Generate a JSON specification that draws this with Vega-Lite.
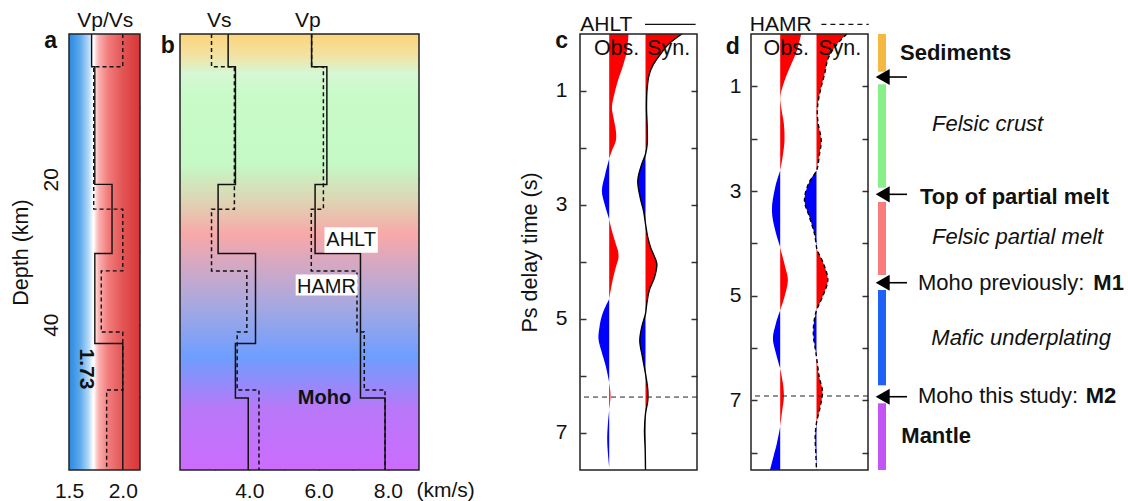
{
"$schema": "https://vega.github.io/schema/vega-lite/v6.json",
"padding": {"left": 10, "top": 9, "right": 0, "bottom": 0},
"background": "white",
"config": {
  "font": "Liberation Sans",
  "view": {"stroke": null},
  "axis": {"labelFont": "Liberation Sans", "titleFont": "Liberation Sans", "labelFontSize": 21, "titleFontSize": 21.5, "titleFontWeight": "normal", "labelColor": "#111", "titleColor": "#111", "tickColor": "#333", "tickWidth": 1.5, "domain": false, "grid": false, "labelFlush": false, "labelOverlap": false},
  "text": {"font": "Liberation Sans", "fontSize": 21, "color": "#111"}
},
"datasets": {
  "prof": [
    {"m":"AHLT","d":0,"vs":3.39,"vp":5.8,"r":1.71},
    {"m":"AHLT","d":4.5,"vs":3.6,"vp":6.24,"r":1.74},
    {"m":"AHLT","d":20.7,"vs":3.1,"vp":5.9,"r":1.9},
    {"m":"AHLT","d":30.2,"vs":4.18,"vp":7.21,"r":1.74},
    {"m":"AHLT","d":42.6,"vs":3.6,"vp":7.21,"r":2.0},
    {"m":"AHLT","d":50.1,"vs":3.97,"vp":7.92,"r":2.0},
    {"m":"AHLT","d":60,"vs":3.97,"vp":7.92,"r":2.0},
    {"m":"HAMR","d":0,"vs":2.91,"vp":5.8,"r":2.0},
    {"m":"HAMR","d":4.5,"vs":3.57,"vp":6.14,"r":1.73},
    {"m":"HAMR","d":24.1,"vs":2.91,"vp":5.79,"r":2.0},
    {"m":"HAMR","d":32.6,"vs":3.93,"vp":7.11,"r":1.8},
    {"m":"HAMR","d":41.0,"vs":3.65,"vp":7.32,"r":2.0},
    {"m":"HAMR","d":49.0,"vs":4.28,"vp":7.92,"r":1.85},
    {"m":"HAMR","d":60,"vs":4.28,"vp":7.92,"r":1.85}
  ],
  "wav": [
    {"p":"c","w":"o","l":1,"s":"p","t":0,"x":48.5},
    {"p":"c","w":"o","l":1,"s":"p","t":0.3,"x":46.9},
    {"p":"c","w":"o","l":1,"s":"p","t":0.53,"x":43.5},
    {"p":"c","w":"o","l":1,"s":"p","t":0.82,"x":37.9},
    {"p":"c","w":"o","l":1,"s":"p","t":1.12,"x":33.5},
    {"p":"c","w":"o","l":1,"s":"p","t":1.29,"x":31.9},
    {"p":"c","w":"o","l":1,"s":"p","t":1.47,"x":33.5},
    {"p":"c","w":"o","l":1,"s":"p","t":1.7,"x":35.9},
    {"p":"c","w":"o","l":1,"s":"p","t":1.87,"x":35.9},
    {"p":"c","w":"o","l":1,"s":"p","t":2.05,"x":31.9},
    {"p":"c","w":"o","l":1,"s":"p","t":2.19,"x":29.2},
    {"p":"c","w":"o","l":2,"s":"n","t":2.19,"x":29.2,"k":1},
    {"p":"c","w":"o","l":2,"s":"n","t":2.46,"x":25.2},
    {"p":"c","w":"o","l":2,"s":"n","t":2.75,"x":21.9},
    {"p":"c","w":"o","l":2,"s":"n","t":2.98,"x":24.5},
    {"p":"c","w":"o","l":2,"s":"n","t":3.25,"x":29.2},
    {"p":"c","w":"o","l":3,"s":"p","t":3.25,"x":29.2,"k":1},
    {"p":"c","w":"o","l":3,"s":"p","t":3.45,"x":31.9},
    {"p":"c","w":"o","l":3,"s":"p","t":3.74,"x":36.9},
    {"p":"c","w":"o","l":3,"s":"p","t":3.8,"x":37.9},
    {"p":"c","w":"o","l":3,"s":"p","t":3.92,"x":38.5},
    {"p":"c","w":"o","l":3,"s":"p","t":4.09,"x":35.9},
    {"p":"c","w":"o","l":3,"s":"p","t":4.38,"x":31.9},
    {"p":"c","w":"o","l":3,"s":"p","t":4.65,"x":29.2},
    {"p":"c","w":"o","l":4,"s":"n","t":4.65,"x":29.2,"k":1},
    {"p":"c","w":"o","l":4,"s":"n","t":4.91,"x":22.5},
    {"p":"c","w":"o","l":4,"s":"n","t":5.14,"x":19.5},
    {"p":"c","w":"o","l":4,"s":"n","t":5.35,"x":18.5},
    {"p":"c","w":"o","l":4,"s":"n","t":5.55,"x":21.2},
    {"p":"c","w":"o","l":4,"s":"n","t":5.84,"x":25.9},
    {"p":"c","w":"o","l":4,"s":"n","t":6.11,"x":29.2},
    {"p":"c","w":"o","l":5,"s":"p","t":6.11,"x":29.2,"k":1},
    {"p":"c","w":"o","l":5,"s":"p","t":6.25,"x":30.2},
    {"p":"c","w":"o","l":5,"s":"p","t":6.37,"x":30.5},
    {"p":"c","w":"o","l":5,"s":"p","t":6.6,"x":29.2},
    {"p":"c","w":"o","l":6,"s":"n","t":6.6,"x":29.2,"k":1},
    {"p":"c","w":"o","l":6,"s":"n","t":6.84,"x":27.9},
    {"p":"c","w":"o","l":6,"s":"n","t":7.13,"x":27.2},
    {"p":"c","w":"o","l":6,"s":"n","t":7.42,"x":28.2},
    {"p":"c","w":"o","l":6,"s":"n","t":7.6,"x":29.2},

    {"p":"c","w":"s","l":1,"s":"p","t":0,"x":101.8},
    {"p":"c","w":"s","l":1,"s":"p","t":0.18,"x":88.5},
    {"p":"c","w":"s","l":1,"s":"p","t":0.36,"x":80.2},
    {"p":"c","w":"s","l":1,"s":"p","t":0.53,"x":73.5},
    {"p":"c","w":"s","l":1,"s":"p","t":0.71,"x":69.2},
    {"p":"c","w":"s","l":1,"s":"p","t":0.94,"x":67.2},
    {"p":"c","w":"s","l":1,"s":"p","t":1.29,"x":66.5},
    {"p":"c","w":"s","l":1,"s":"p","t":1.64,"x":67.2},
    {"p":"c","w":"s","l":1,"s":"p","t":1.93,"x":67.2},
    {"p":"c","w":"s","l":1,"s":"p","t":2.11,"x":65.5},
    {"p":"c","w":"s","l":2,"s":"n","t":2.11,"x":65.5,"k":1},
    {"p":"c","w":"s","l":2,"s":"n","t":2.28,"x":61.8},
    {"p":"c","w":"s","l":2,"s":"n","t":2.57,"x":57.8},
    {"p":"c","w":"s","l":2,"s":"n","t":2.87,"x":60.2},
    {"p":"c","w":"s","l":2,"s":"n","t":3.1,"x":63.5},
    {"p":"c","w":"s","l":2,"s":"n","t":3.33,"x":65.5},
    {"p":"c","w":"s","l":3,"s":"p","t":3.33,"x":65.5,"k":1},
    {"p":"c","w":"s","l":3,"s":"p","t":3.57,"x":67.8},
    {"p":"c","w":"s","l":3,"s":"p","t":3.74,"x":70.5},
    {"p":"c","w":"s","l":3,"s":"p","t":3.84,"x":72.8},
    {"p":"c","w":"s","l":3,"s":"p","t":4.03,"x":76.8},
    {"p":"c","w":"s","l":3,"s":"p","t":4.27,"x":74.5},
    {"p":"c","w":"s","l":3,"s":"p","t":4.5,"x":69.2},
    {"p":"c","w":"s","l":3,"s":"p","t":4.73,"x":66.8},
    {"p":"c","w":"s","l":3,"s":"p","t":4.91,"x":65.5},
    {"p":"c","w":"s","l":4,"s":"n","t":4.91,"x":65.5,"k":1},
    {"p":"c","w":"s","l":4,"s":"n","t":5.14,"x":61.8},
    {"p":"c","w":"s","l":4,"s":"n","t":5.38,"x":59.8},
    {"p":"c","w":"s","l":4,"s":"n","t":5.67,"x":62.5},
    {"p":"c","w":"s","l":4,"s":"n","t":5.96,"x":65.5},
    {"p":"c","w":"s","l":5,"s":"p","t":5.96,"x":65.5,"k":1},
    {"p":"c","w":"s","l":5,"s":"p","t":6.25,"x":67.8},
    {"p":"c","w":"s","l":5,"s":"p","t":6.43,"x":67.8},
    {"p":"c","w":"s","l":5,"s":"p","t":6.66,"x":65.5},
    {"p":"c","w":"s","l":6,"s":"n","t":6.66,"x":65.5,"k":1},
    {"p":"c","w":"s","l":6,"s":"n","t":6.95,"x":64.5},
    {"p":"c","w":"s","l":6,"s":"n","t":7.3,"x":65.2},
    {"p":"c","w":"s","l":6,"s":"n","t":7.65,"x":65.5},

    {"p":"d","w":"o","l":1,"s":"p","t":0,"x":50.2},
    {"p":"d","w":"o","l":1,"s":"p","t":0.32,"x":45.9},
    {"p":"d","w":"o","l":1,"s":"p","t":0.58,"x":40.2},
    {"p":"d","w":"o","l":1,"s":"p","t":0.9,"x":33.5},
    {"p":"d","w":"o","l":1,"s":"p","t":1.18,"x":29.5},
    {"p":"d","w":"o","l":1,"s":"p","t":1.4,"x":30.2},
    {"p":"d","w":"o","l":1,"s":"p","t":1.72,"x":32.9},
    {"p":"d","w":"o","l":1,"s":"p","t":2.04,"x":33.5},
    {"p":"d","w":"o","l":1,"s":"p","t":2.36,"x":31.5},
    {"p":"d","w":"o","l":1,"s":"p","t":2.61,"x":29.2},
    {"p":"d","w":"o","l":2,"s":"n","t":2.61,"x":29.2,"k":1},
    {"p":"d","w":"o","l":2,"s":"n","t":2.93,"x":24.2},
    {"p":"d","w":"o","l":2,"s":"n","t":3.37,"x":20.9},
    {"p":"d","w":"o","l":2,"s":"n","t":3.75,"x":24.2},
    {"p":"d","w":"o","l":2,"s":"n","t":4.07,"x":29.2},
    {"p":"d","w":"o","l":3,"s":"p","t":4.07,"x":29.2,"k":1},
    {"p":"d","w":"o","l":3,"s":"p","t":4.13,"x":29.9},
    {"p":"d","w":"o","l":3,"s":"p","t":4.45,"x":34.2},
    {"p":"d","w":"o","l":3,"s":"p","t":4.7,"x":36.9},
    {"p":"d","w":"o","l":3,"s":"p","t":5.02,"x":33.5},
    {"p":"d","w":"o","l":3,"s":"p","t":5.28,"x":29.2},
    {"p":"d","w":"o","l":4,"s":"n","t":5.28,"x":29.2,"k":1},
    {"p":"d","w":"o","l":4,"s":"n","t":5.53,"x":24.9},
    {"p":"d","w":"o","l":4,"s":"n","t":5.82,"x":21.9},
    {"p":"d","w":"o","l":4,"s":"n","t":6.1,"x":24.9},
    {"p":"d","w":"o","l":4,"s":"n","t":6.39,"x":29.2},
    {"p":"d","w":"o","l":5,"s":"p","t":6.39,"x":29.2,"k":1},
    {"p":"d","w":"o","l":5,"s":"p","t":6.67,"x":31.9},
    {"p":"d","w":"o","l":5,"s":"p","t":6.93,"x":32.9},
    {"p":"d","w":"o","l":5,"s":"p","t":7.24,"x":30.9},
    {"p":"d","w":"o","l":5,"s":"p","t":7.5,"x":29.2},
    {"p":"d","w":"o","l":6,"s":"n","t":7.5,"x":29.2,"k":1},
    {"p":"d","w":"o","l":6,"s":"n","t":7.82,"x":25.9},
    {"p":"d","w":"o","l":6,"s":"n","t":8.07,"x":22.5},
    {"p":"d","w":"o","l":6,"s":"n","t":8.33,"x":19.0},

    {"p":"d","w":"s","l":1,"s":"p","t":0,"x":95.8},
    {"p":"d","w":"s","l":1,"s":"p","t":0.2,"x":85.8},
    {"p":"d","w":"s","l":1,"s":"p","t":0.45,"x":77.5},
    {"p":"d","w":"s","l":1,"s":"p","t":0.77,"x":73.5},
    {"p":"d","w":"s","l":1,"s":"p","t":1.09,"x":69.2},
    {"p":"d","w":"s","l":1,"s":"p","t":1.4,"x":66.5},
    {"p":"d","w":"s","l":1,"s":"p","t":1.66,"x":66.8},
    {"p":"d","w":"s","l":1,"s":"p","t":2.04,"x":70.2},
    {"p":"d","w":"s","l":1,"s":"p","t":2.29,"x":68.5},
    {"p":"d","w":"s","l":1,"s":"p","t":2.61,"x":65.5},
    {"p":"d","w":"s","l":2,"s":"n","t":2.61,"x":65.5,"k":1},
    {"p":"d","w":"s","l":2,"s":"n","t":2.86,"x":57.5},
    {"p":"d","w":"s","l":2,"s":"n","t":3.18,"x":53.5},
    {"p":"d","w":"s","l":2,"s":"n","t":3.5,"x":58.5},
    {"p":"d","w":"s","l":2,"s":"n","t":3.82,"x":63.5},
    {"p":"d","w":"s","l":2,"s":"n","t":4.07,"x":65.5},
    {"p":"d","w":"s","l":3,"s":"p","t":4.07,"x":65.5,"k":1},
    {"p":"d","w":"s","l":3,"s":"p","t":4.13,"x":66.2},
    {"p":"d","w":"s","l":3,"s":"p","t":4.39,"x":72.5},
    {"p":"d","w":"s","l":3,"s":"p","t":4.7,"x":76.8},
    {"p":"d","w":"s","l":3,"s":"p","t":5.02,"x":71.5},
    {"p":"d","w":"s","l":3,"s":"p","t":5.28,"x":65.5},
    {"p":"d","w":"s","l":4,"s":"n","t":5.28,"x":65.5,"k":1},
    {"p":"d","w":"s","l":4,"s":"n","t":5.53,"x":62.8},
    {"p":"d","w":"s","l":4,"s":"n","t":5.78,"x":62.5},
    {"p":"d","w":"s","l":4,"s":"n","t":6.04,"x":64.5},
    {"p":"d","w":"s","l":4,"s":"n","t":6.17,"x":65.5},
    {"p":"d","w":"s","l":5,"s":"p","t":6.17,"x":65.5,"k":1},
    {"p":"d","w":"s","l":5,"s":"p","t":6.55,"x":68.2},
    {"p":"d","w":"s","l":5,"s":"p","t":6.83,"x":71.5},
    {"p":"d","w":"s","l":5,"s":"p","t":7.12,"x":69.2},
    {"p":"d","w":"s","l":5,"s":"p","t":7.43,"x":65.5},
    {"p":"d","w":"s","l":6,"s":"n","t":7.43,"x":65.5,"k":1},
    {"p":"d","w":"s","l":6,"s":"n","t":7.69,"x":64.2},
    {"p":"d","w":"s","l":6,"s":"n","t":8.01,"x":64.8},
    {"p":"d","w":"s","l":6,"s":"n","t":8.33,"x":65.5}
  ],
  "bars": [
    {"u":"Sediments","t0":0,"t1":0.72},
    {"u":"Felsic crust","t0":0.961,"t1":2.937},
    {"u":"Felsic partial melt","t0":3.21,"t1":4.605},
    {"u":"Mafic underplating","t0":4.891,"t1":6.712},
    {"u":"Mantle","t0":7.056,"t1":8.33}
  ],
  "arr": [{"t":0.822},{"t":3.063},{"t":4.752},{"t":6.93}],
  "labs": [
    {"txt":"Sediments","x":32,"t":0.502},
    {"txt":"Felsic crust","x":64,"t":1.853},
    {"txt":"Top of partial melt","x":52,"t":3.242},
    {"txt":"Felsic partial melt","x":64,"t":4.018},
    {"txt":"Moho previously: ","x":50,"t":4.897},
    {"txt":"M1","x":225.3,"t":4.897},
    {"txt":"Mafic underplating","x":63.3,"t":5.948},
    {"txt":"Moho this study: ","x":50,"t":7.044},
    {"txt":"M2","x":217.7,"t":7.044},
    {"txt":"Mantle","x":33.3,"t":7.809}
  ]
},
"hconcat": [
  {
    "width": 71, "height": 436,
    "layer": [
      {
        "data": {"values": [{}]},
        "layer": [
          {
            "mark": {"type": "rect", "fill": {"gradient": "linear", "x1": 0, "y1": 0, "x2": 1, "y2": 0, "stops": [
              {"offset": 0, "color": "#2a88e0"}, {"offset": 0.15, "color": "#5aa8ec"}, {"offset": 0.28, "color": "#b8daf8"},
              {"offset": 0.33, "color": "#f4f9ff"}, {"offset": 0.35, "color": "#ffffff"}, {"offset": 0.37, "color": "#ffe2e2"},
              {"offset": 0.42, "color": "#fbb0b0"}, {"offset": 0.55, "color": "#f27c7c"}, {"offset": 0.75, "color": "#e45656"},
              {"offset": 1, "color": "#d83535"}]}},
            "encoding": {
              "x": {"datum": 1.5, "type": "quantitative", "scale": {"domain": [1.5, 2.16], "nice": false, "zero": false},
                    "axis": {"values": [1.5, 2.0], "format": ".1f", "ticks": false, "labelPadding": 10, "title": null}},
              "x2": {"datum": 2.16},
              "y": {"datum": 0, "type": "quantitative", "scale": {"domain": [0, 60], "reverse": true, "nice": false, "zero": false},
                    "axis": {"values": [10, 20, 30, 40, 50], "labelExpr": "datum.value == 20 || datum.value == 40 ? datum.label : ''",
                             "labelAngle": 270, "labelAlign": "center", "labelBaseline": "bottom", "tickSize": -6, "labelPadding": 14,
                             "title": "Depth (km)", "titlePadding": 8}},
              "y2": {"datum": 60}
            }
          },
          {
            "data": {"name": "prof"},
            "mark": {"type": "line", "interpolate": "step-before", "color": "#111", "strokeWidth": 1.4},
            "encoding": {
              "x": {"field": "r", "type": "quantitative"},
              "y": {"field": "d", "type": "quantitative"},
              "detail": {"field": "m"},
              "order": {"field": "d", "type": "quantitative"},
              "strokeDash": {"field": "m", "type": "nominal", "scale": {"domain": ["AHLT", "HAMR"], "range": [[1, 0], [4, 3]]}, "legend": null}
            }
          },
          {
            "mark": {"type": "text", "text": "1.73", "fontWeight": "bold", "angle": 90, "align": "center", "baseline": "middle", "fontSize": 21},
            "encoding": {"x": {"datum": 1.66, "type": "quantitative"}, "y": {"datum": 46.1, "type": "quantitative"}}
          },
          {
            "mark": {"type": "text", "text": "Vp/Vs", "align": "center", "baseline": "alphabetic"},
            "encoding": {"x": {"datum": 1.837, "type": "quantitative"}, "y": {"datum": -0.97, "type": "quantitative"}}
          },
          {
            "mark": {"type": "text", "text": "a", "fontWeight": "bold", "fontSize": 23, "align": "center", "baseline": "alphabetic"},
            "encoding": {"x": {"datum": 1.33, "type": "quantitative"}, "y": {"datum": 1.89, "type": "quantitative"}}
          }
        ]
      },
      {
        "data": {"values": [{}]},
        "mark": {"type": "rect", "fill": "#ffffff", "fillOpacity": 0, "stroke": "#222", "strokeWidth": 1.5},
        "encoding": {
          "x": {"datum": 1.5, "type": "quantitative", "axis": null},
          "x2": {"datum": 2.16},
          "y": {"datum": 0, "type": "quantitative", "axis": {"orient": "right", "values": [10, 20, 30, 40, 50], "labels": false, "tickSize": -6, "title": null}},
          "y2": {"datum": 60}
        }
      }
    ],
    "resolve": {"axis": {"x": "independent", "y": "independent"}}
  },
  {"width": 40, "height": 436, "data": {"values": []}, "mark": "point", "encoding": {}},
  {
    "width": 239, "height": 436,
    "layer": [
      {
        "data": {"values": [{}]},
        "layer": [
          {
            "mark": {"type": "rect", "fill": {"gradient": "linear", "x1": 0, "y1": 0, "x2": 0, "y2": 1, "stops": [
              {"offset": 0, "color": "#fcd47c"}, {"offset": 0.05, "color": "#f2e2a2"}, {"offset": 0.09, "color": "#d6f7d4"},
              {"offset": 0.14, "color": "#c8fbc8"}, {"offset": 0.3, "color": "#c4f8c4"}, {"offset": 0.38, "color": "#ddd6b4"},
              {"offset": 0.46, "color": "#f8a8a8"}, {"offset": 0.53, "color": "#d4a8c4"}, {"offset": 0.62, "color": "#a8a8e0"},
              {"offset": 0.74, "color": "#6e9eff"}, {"offset": 0.86, "color": "#b878f8"}, {"offset": 1, "color": "#cc6cff"}]}},
            "encoding": {
              "x": {"datum": 2, "type": "quantitative", "scale": {"domain": [2, 8.9], "nice": false, "zero": false},
                    "axis": {"values": [3, 4, 5, 6, 7, 8], "labelExpr": "datum.value % 2 == 0 ? format(datum.value, '.1f') : ''", "tickSize": -6, "labelPadding": 16, "title": null}},
              "x2": {"datum": 8.9},
              "y": {"datum": 0, "type": "quantitative", "scale": {"domain": [0, 60], "reverse": true, "nice": false, "zero": false},
                    "axis": {"values": [10, 20, 30, 40, 50], "labels": false, "tickSize": -6, "title": null}},
              "y2": {"datum": 60}
            }
          },
          {
            "data": {"name": "prof"},
            "mark": {"type": "line", "interpolate": "step-before", "color": "#111", "strokeWidth": 1.5},
            "encoding": {
              "x": {"field": "vs", "type": "quantitative"},
              "y": {"field": "d", "type": "quantitative"},
              "detail": {"field": "m"},
              "order": {"field": "d", "type": "quantitative"},
              "strokeDash": {"field": "m", "type": "nominal", "scale": {"domain": ["AHLT", "HAMR"], "range": [[1, 0], [4, 3]]}, "legend": null}
            }
          },
          {
            "data": {"name": "prof"},
            "mark": {"type": "line", "interpolate": "step-before", "color": "#111", "strokeWidth": 1.5},
            "encoding": {
              "x": {"field": "vp", "type": "quantitative"},
              "y": {"field": "d", "type": "quantitative"},
              "detail": {"field": "m"},
              "order": {"field": "d", "type": "quantitative"},
              "strokeDash": {"field": "m", "type": "nominal", "scale": {"domain": ["AHLT", "HAMR"], "range": [[1, 0], [4, 3]]}, "legend": null}
            }
          },
          {
            "mark": {"type": "rect", "color": "#ffffff"},
            "encoding": {"x": {"datum": 6.17, "type": "quantitative"}, "x2": {"datum": 7.71}, "y": {"datum": 26.6, "type": "quantitative"}, "y2": {"datum": 30.1}}
          },
          {
            "mark": {"type": "rect", "color": "#ffffff"},
            "encoding": {"x": {"datum": 5.34, "type": "quantitative"}, "x2": {"datum": 7.13}, "y": {"datum": 33.1, "type": "quantitative"}, "y2": {"datum": 36.0}}
          },
          {
            "mark": {"type": "text", "text": "AHLT", "fontSize": 20, "align": "center", "baseline": "alphabetic"},
            "encoding": {"x": {"datum": 6.94, "type": "quantitative"}, "y": {"datum": 29.2, "type": "quantitative"}}
          },
          {
            "mark": {"type": "text", "text": "HAMR", "fontSize": 20, "align": "center", "baseline": "alphabetic"},
            "encoding": {"x": {"datum": 6.23, "type": "quantitative"}, "y": {"datum": 35.7, "type": "quantitative"}}
          },
          {
            "mark": {"type": "text", "text": "Moho", "fontSize": 20, "fontWeight": "bold", "align": "center", "baseline": "alphabetic"},
            "encoding": {"x": {"datum": 6.17, "type": "quantitative"}, "y": {"datum": 50.9, "type": "quantitative"}}
          },
          {
            "mark": {"type": "text", "text": "Vs", "align": "center", "baseline": "alphabetic"},
            "encoding": {"x": {"datum": 3.13, "type": "quantitative"}, "y": {"datum": -0.97, "type": "quantitative"}}
          },
          {
            "mark": {"type": "text", "text": "Vp", "align": "center", "baseline": "alphabetic"},
            "encoding": {"x": {"datum": 5.69, "type": "quantitative"}, "y": {"datum": -0.97, "type": "quantitative"}}
          },
          {
            "mark": {"type": "text", "text": "(km/s)", "align": "center", "baseline": "alphabetic"},
            "encoding": {"x": {"datum": 9.67, "type": "quantitative"}, "y": {"datum": 63.7, "type": "quantitative"}}
          },
          {
            "mark": {"type": "text", "text": "b", "fontWeight": "bold", "fontSize": 23, "align": "center", "baseline": "alphabetic"},
            "encoding": {"x": {"datum": 1.65, "type": "quantitative"}, "y": {"datum": 2.62, "type": "quantitative"}}
          }
        ]
      },
      {
        "data": {"values": [{}]},
        "mark": {"type": "rect", "fill": "#ffffff", "fillOpacity": 0, "stroke": "#222", "strokeWidth": 1.5},
        "encoding": {
          "x": {"datum": 2, "type": "quantitative", "axis": {"orient": "top", "values": [3, 4, 5, 6, 7, 8], "labels": false, "tickSize": -6, "title": null}},
          "x2": {"datum": 8.9},
          "y": {"datum": 0, "type": "quantitative", "axis": {"orient": "right", "values": [20, 40], "labels": false, "tickSize": -6, "title": null}},
          "y2": {"datum": 60}
        }
      }
    ],
    "resolve": {"axis": {"x": "independent", "y": "independent"}}
  },
  {"width": 161, "height": 436, "data": {"values": []}, "mark": "point", "encoding": {}},
  {
    "width": 117, "height": 436,
    "layer": [
      {
        "data": {"values": [{}]},
        "layer": [
          {
            "data": {"name": "wav"},
            "transform": [{"filter": "datum.p == 'c' && datum.w == 'o'"}],
            "mark": {"type": "area", "orient": "horizontal", "interpolate": "catmull-rom"},
            "encoding": {
              "y": {"field": "t", "type": "quantitative", "scale": {"domain": [0, 7.65], "reverse": true, "nice": false, "zero": false},
                    "axis": {"values": [1, 2, 3, 4, 5, 6, 7], "format": "d", "labelExpr": "datum.value % 2 == 1 ? datum.label : ''", "tickSize": -6, "labelPadding": 19, "title": "Ps delay time (s)", "titlePadding": 14}},
              "x": {"field": "x", "type": "quantitative", "stack": null, "scale": {"domain": [0, 117], "nice": false, "zero": false}, "axis": null},
              "x2": {"datum": 29.2},
              "color": {"field": "s", "type": "nominal", "scale": {"domain": ["p", "n"], "range": ["#ff0000", "#0000ff"]}, "legend": null},
              "detail": {"field": "l"}
            }
          },
          {
            "data": {"name": "wav"},
            "transform": [{"filter": "datum.p == 'c' && datum.w == 's'"}],
            "mark": {"type": "area", "orient": "horizontal", "interpolate": "catmull-rom"},
            "encoding": {
              "y": {"field": "t", "type": "quantitative"},
              "x": {"field": "x", "type": "quantitative", "stack": null, "axis": null},
              "x2": {"datum": 65.5},
              "color": {"field": "s", "type": "nominal", "scale": {"domain": ["p", "n"], "range": ["#ff0000", "#0000ff"]}, "legend": null},
              "detail": {"field": "l"}
            }
          },
          {
            "data": {"name": "wav"},
            "transform": [{"filter": "datum.p == 'c' && datum.w == 's' && datum.k != 1"}],
            "mark": {"type": "line", "interpolate": "catmull-rom", "color": "#000", "strokeWidth": 1.4},
            "encoding": {
              "y": {"field": "t", "type": "quantitative"},
              "x": {"field": "x", "type": "quantitative", "axis": null},
              "order": {"field": "t", "type": "quantitative"}
            }
          },
          {
            "mark": {"type": "rule", "color": "#222", "strokeWidth": 1, "strokeDash": [5, 4]},
            "encoding": {"y": {"datum": 6.37, "type": "quantitative"}}
          },
          {
            "mark": {"type": "text", "text": "AHLT", "align": "center", "baseline": "alphabetic"},
            "encoding": {"x": {"datum": 26.3, "type": "quantitative", "axis": null}, "y": {"datum": -0.053, "type": "quantitative"}}
          },
          {
            "mark": {"type": "rule", "color": "#111", "strokeWidth": 1.3},
            "encoding": {"x": {"datum": 65, "type": "quantitative", "axis": null}, "x2": {"datum": 115.6}, "y": {"datum": -0.17, "type": "quantitative"}}
          },
          {
            "mark": {"type": "text", "text": "Obs.", "fontSize": 21.5, "align": "center", "baseline": "alphabetic"},
            "encoding": {"x": {"datum": 36.6, "type": "quantitative", "axis": null}, "y": {"datum": 0.368, "type": "quantitative"}}
          },
          {
            "mark": {"type": "text", "text": "Syn.", "fontSize": 21.5, "align": "center", "baseline": "alphabetic"},
            "encoding": {"x": {"datum": 88.6, "type": "quantitative", "axis": null}, "y": {"datum": 0.368, "type": "quantitative"}}
          },
          {
            "mark": {"type": "text", "text": "c", "fontWeight": "bold", "fontSize": 23, "align": "center", "baseline": "alphabetic"},
            "encoding": {"x": {"datum": -18.4, "type": "quantitative", "axis": null}, "y": {"datum": 0.24, "type": "quantitative"}}
          }
        ]
      },
      {
        "data": {"values": [{}]},
        "mark": {"type": "rect", "fill": "#ffffff", "fillOpacity": 0, "stroke": "#222", "strokeWidth": 1.5},
        "encoding": {
          "x": {"datum": 0, "type": "quantitative", "axis": null},
          "x2": {"datum": 117},
          "y": {"datum": 0, "type": "quantitative", "axis": {"orient": "right", "values": [1, 2, 3, 4, 5, 6, 7], "labels": false, "tickSize": -6, "title": null}},
          "y2": {"datum": 7.65}
        }
      }
    ],
    "resolve": {"axis": {"y": "independent"}}
  },
  {"width": 54, "height": 436, "data": {"values": []}, "mark": "point", "encoding": {}},
  {
    "width": 117, "height": 436,
    "layer": [
      {
        "data": {"values": [{}]},
        "layer": [
          {
            "data": {"name": "wav"},
            "transform": [{"filter": "datum.p == 'd' && datum.w == 'o'"}],
            "mark": {"type": "area", "orient": "horizontal", "interpolate": "catmull-rom"},
            "encoding": {
              "y": {"field": "t", "type": "quantitative", "scale": {"domain": [0, 8.33], "reverse": true, "nice": false, "zero": false},
                    "axis": {"values": [1, 2, 3, 4, 5, 6, 7, 8], "format": "d", "labelExpr": "datum.value % 2 == 1 ? datum.label : ''", "tickSize": -6, "labelPadding": 16, "title": null}},
              "x": {"field": "x", "type": "quantitative", "stack": null, "scale": {"domain": [0, 117], "nice": false, "zero": false}, "axis": null},
              "x2": {"datum": 29.2},
              "color": {"field": "s", "type": "nominal", "scale": {"domain": ["p", "n"], "range": ["#ff0000", "#0000ff"]}, "legend": null},
              "detail": {"field": "l"}
            }
          },
          {
            "data": {"name": "wav"},
            "transform": [{"filter": "datum.p == 'd' && datum.w == 's'"}],
            "mark": {"type": "area", "orient": "horizontal", "interpolate": "catmull-rom"},
            "encoding": {
              "y": {"field": "t", "type": "quantitative"},
              "x": {"field": "x", "type": "quantitative", "stack": null, "axis": null},
              "x2": {"datum": 65.5},
              "color": {"field": "s", "type": "nominal", "scale": {"domain": ["p", "n"], "range": ["#ff0000", "#0000ff"]}, "legend": null},
              "detail": {"field": "l"}
            }
          },
          {
            "data": {"name": "wav"},
            "transform": [{"filter": "datum.p == 'd' && datum.w == 's' && datum.k != 1"}],
            "mark": {"type": "line", "interpolate": "catmull-rom", "color": "#000", "strokeWidth": 1.4, "strokeDash": [4, 3]},
            "encoding": {
              "y": {"field": "t", "type": "quantitative"},
              "x": {"field": "x", "type": "quantitative", "axis": null},
              "order": {"field": "t", "type": "quantitative"}
            }
          },
          {
            "mark": {"type": "rule", "color": "#222", "strokeWidth": 1, "strokeDash": [5, 4]},
            "encoding": {"y": {"datum": 6.916, "type": "quantitative"}}
          },
          {
            "mark": {"type": "text", "text": "HAMR", "align": "center", "baseline": "alphabetic"},
            "encoding": {"x": {"datum": 29.7, "type": "quantitative", "axis": null}, "y": {"datum": -0.057, "type": "quantitative"}}
          },
          {
            "mark": {"type": "rule", "color": "#111", "strokeWidth": 1.3, "strokeDash": [5, 4]},
            "encoding": {"x": {"datum": 70.4, "type": "quantitative", "axis": null}, "x2": {"datum": 117.7}, "y": {"datum": -0.185, "type": "quantitative"}}
          },
          {
            "mark": {"type": "text", "text": "Obs.", "fontSize": 21.5, "align": "center", "baseline": "alphabetic"},
            "encoding": {"x": {"datum": 35.2, "type": "quantitative", "axis": null}, "y": {"datum": 0.401, "type": "quantitative"}}
          },
          {
            "mark": {"type": "text", "text": "Syn.", "fontSize": 21.5, "align": "center", "baseline": "alphabetic"},
            "encoding": {"x": {"datum": 88.7, "type": "quantitative", "axis": null}, "y": {"datum": 0.401, "type": "quantitative"}}
          },
          {
            "mark": {"type": "text", "text": "d", "fontWeight": "bold", "fontSize": 23, "align": "center", "baseline": "alphabetic"},
            "encoding": {"x": {"datum": -18.3, "type": "quantitative", "axis": null}, "y": {"datum": 0.373, "type": "quantitative"}}
          }
        ]
      },
      {
        "data": {"values": [{}]},
        "mark": {"type": "rect", "fill": "#ffffff", "fillOpacity": 0, "stroke": "#222", "strokeWidth": 1.5},
        "encoding": {
          "x": {"datum": 0, "type": "quantitative", "axis": null},
          "x2": {"datum": 117},
          "y": {"datum": 0, "type": "quantitative", "axis": {"orient": "right", "values": [1, 2, 3, 4, 5, 6, 7, 8], "labels": false, "tickSize": -6, "title": null}},
          "y2": {"datum": 8.33}
        }
      }
    ],
    "resolve": {"axis": {"y": "independent"}}
  },
  {
    "width": 258, "height": 436,
    "layer": [
      {
        "data": {"name": "bars"},
        "mark": {"type": "rect"},
        "encoding": {
          "x": {"datum": 10, "type": "quantitative", "scale": {"domain": [0, 258], "nice": false, "zero": false}, "axis": null},
          "x2": {"datum": 18},
          "y": {"field": "t0", "type": "quantitative", "scale": {"domain": [0, 8.33], "reverse": true, "nice": false, "zero": false}, "axis": null},
          "y2": {"field": "t1"},
          "fill": {"field": "u", "type": "nominal", "legend": null, "scale": {
            "domain": ["Sediments", "Felsic crust", "Felsic partial melt", "Mafic underplating", "Mantle"],
            "range": ["#f5b842", "#88f088", "#f87c7c", "#1e63f5", "#c455f5"]}}
        }
      },
      {
        "data": {"name": "arr"},
        "mark": {"type": "rule", "color": "#000", "strokeWidth": 1.6},
        "encoding": {"x": {"datum": 14, "type": "quantitative", "axis": null}, "x2": {"datum": 39}, "y": {"field": "t", "type": "quantitative", "axis": null}}
      },
      {
        "data": {"name": "arr"},
        "mark": {"type": "point", "shape": "triangle-left", "filled": true, "color": "#000", "opacity": 1, "size": 260},
        "encoding": {"x": {"datum": 14.7, "type": "quantitative", "axis": null}, "y": {"field": "t", "type": "quantitative", "axis": null}}
      },
      {
        "data": {"name": "labs"},
        "transform": [{"filter": {"field": "txt", "oneOf": ["Sediments", "Top of partial melt", "M1", "M2", "Mantle"]}}],
        "mark": {"type": "text", "fontWeight": "bold", "fontSize": 22, "align": "left", "baseline": "alphabetic"},
        "encoding": {"x": {"field": "x", "type": "quantitative", "axis": null}, "y": {"field": "t", "type": "quantitative", "axis": null}, "text": {"field": "txt"}}
      },
      {
        "data": {"name": "labs"},
        "transform": [{"filter": {"field": "txt", "oneOf": ["Felsic crust", "Felsic partial melt", "Mafic underplating"]}}],
        "mark": {"type": "text", "fontStyle": "italic", "fontSize": 22, "align": "left", "baseline": "alphabetic"},
        "encoding": {"x": {"field": "x", "type": "quantitative", "axis": null}, "y": {"field": "t", "type": "quantitative", "axis": null}, "text": {"field": "txt"}}
      },
      {
        "data": {"name": "labs"},
        "transform": [{"filter": {"field": "txt", "oneOf": ["Moho previously: ", "Moho this study: "]}}],
        "mark": {"type": "text", "fontSize": 22, "align": "left", "baseline": "alphabetic"},
        "encoding": {"x": {"field": "x", "type": "quantitative", "axis": null}, "y": {"field": "t", "type": "quantitative", "axis": null}, "text": {"field": "txt"}}
      }
    ]
  }
],
"spacing": 0,
"bounds": "flush"
}
